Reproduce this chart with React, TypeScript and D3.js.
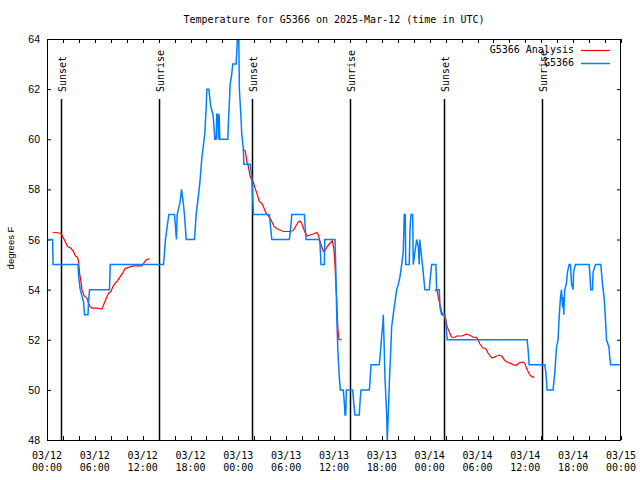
import React from "react";
import * as d3 from "d3";

// ---- data (hours since 2025-03-12 00:00 UTC, temperature °F) ----
const obsHours = [
  0.0, 0.7, 0.76, 3.88, 3.98, 4.17, 4.59, 4.71, 5.14, 5.21, 5.34, 7.84, 7.93, 14.61, 14.74, 14.86,
  15.07, 15.29, 15.99, 16.24, 16.33, 16.7, 16.87, 17.08, 17.24, 17.46, 18.5, 18.71, 19.09, 19.21,
  19.42, 19.62, 19.8, 19.87, 19.96, 20.05, 20.3, 20.55, 20.8, 20.88, 21.05, 21.22, 21.3, 21.43,
  21.5, 21.59, 21.68, 22.68, 22.76, 22.88, 22.97, 23.13, 23.31, 23.72, 23.81, 23.88, 24.06, 24.13,
  24.31, 24.43, 24.63, 24.7, 25.48, 25.69, 25.89, 27.89, 28.2, 30.4, 30.61, 30.7, 32.28, 32.49,
  34.16, 34.25, 34.37, 34.79, 34.84, 36.13, 36.25, 36.34, 36.47, 36.54, 36.67, 36.79, 37.17, 37.29,
  37.38, 37.47, 37.55, 38.35, 38.47, 38.63, 39.17, 39.26, 39.39, 40.43, 40.51, 40.64, 41.68, 41.77,
  42.02, 42.14, 42.18, 42.27, 42.39, 42.61, 42.68, 42.76, 42.81, 42.94, 43.11, 43.23, 43.43, 43.65,
  43.86, 44.06, 44.27, 44.49, 44.69, 44.81, 44.94, 45.0, 45.44, 45.53, 45.66, 45.87, 45.94, 46.15,
  46.37, 46.57, 46.69, 46.75, 46.99, 47.19, 47.32, 47.41, 47.95, 48.03, 48.25, 48.78, 48.87, 49.2,
  49.25, 49.29, 49.5, 49.91, 50.04, 50.12, 50.2, 60.23, 60.35, 60.48, 62.44, 62.57, 62.73, 63.48,
  63.7, 63.91, 64.11, 64.24, 64.41, 64.54, 64.66, 64.74, 64.82, 64.95, 65.16, 65.29, 65.49, 65.66,
  65.79, 65.99, 66.05, 66.29, 67.99, 68.08, 68.21, 68.42, 68.5, 68.8, 69.47, 69.55, 69.67, 69.87,
  69.96, 70.09, 70.18, 70.5, 70.59, 70.71, 72.0,
];
const obsTemps = [
  56, 56, 55, 55, 54.5, 54, 53.5, 53, 53, 53.5, 54, 54, 55, 55, 55.5, 56,
  56.5, 57, 57, 56, 57, 57.5, 58, 57.5, 57, 56, 56, 57, 58, 58.4,
  59.25, 59.75, 60.25, 60.7, 61.2, 62, 62, 61.3, 61, 60.8, 60, 60, 61, 61,
  60, 61, 60, 60, 60.7, 61.5, 62.2, 62.5, 63, 63, 63.5, 64, 64, 62,
  61, 60.2, 59.6, 59, 59, 58.5, 57, 57, 56, 56, 56.6, 57, 57, 56,
  56, 55.8, 55, 55, 56, 56, 54.5, 53, 51.7, 51.2, 50.5, 50, 50, 49.5,
  49, 49, 50, 50, 49.5, 49, 49, 49.5, 50, 50, 50.3, 51, 51, 51.3,
  52.3, 52.7, 53, 52, 50.5, 49, 48, 48.6, 49, 50.3, 51.5, 52.5, 53, 53.5,
  54, 54.2, 54.5, 55, 55.5, 57, 57, 55, 55, 56.4, 57, 57, 55, 55.5,
  56, 55.7, 55, 56, 55.3, 54.7, 54.25, 54, 54, 54.3, 55, 55, 54, 54,
  53.7, 53.3, 53, 53, 52.6, 52.3, 52, 52, 51.6, 51, 51, 50.7, 50, 50,
  50.7, 51.7, 52, 52.9, 53.7, 54, 53.3, 53.7, 53, 54, 54.25, 54.7, 55, 55,
  54.25, 54, 54.7, 55, 55, 54.7, 54, 54, 54.7, 55, 55, 54.7, 54.25, 53.7,
  53.3, 52.6, 52, 51.7, 51.3, 51, 51,
];

// analysis runs (three separate segments)
const anaHours1 = [
  0.7, 1.33, 1.75, 2.08, 2.29, 2.58, 3.01, 3.33, 3.55, 3.83, 3.96, 4.09, 4.26, 4.39, 4.67, 5.01,
  5.21, 5.43, 5.64, 6.27, 6.89, 7.09, 7.31, 7.52, 7.72, 8.02, 8.27, 8.56, 8.85, 9.19, 9.52, 9.81,
  10.23, 10.85, 11.9, 12.19, 12.44, 12.86,
];
const anaTemps1 = [
  56.29, 56.27, 56.24, 56.05, 55.92, 55.72, 55.65, 55.52, 55.35, 55.29, 55.12, 54.65, 54.32, 53.99,
  53.75, 53.66, 53.46, 53.32, 53.26, 53.26, 53.22, 53.39, 53.56, 53.72, 53.86, 53.92, 54.12, 54.26,
  54.36, 54.52, 54.68, 54.84, 54.89, 54.95, 54.95, 55.08, 55.19, 55.23,
];
const anaHours2 = [
  24.56, 24.85, 24.97, 25.06, 25.26, 25.48, 25.69, 25.89, 26.1, 26.39, 26.64, 26.94, 27.23, 27.48,
  27.77, 27.98, 28.2, 28.48, 28.82, 29.24, 29.65, 30.49, 30.9, 31.24, 31.53, 31.74, 31.95, 32.16,
  32.37, 32.66, 33.0, 33.41, 33.83, 34.04, 34.25, 34.46, 34.66, 34.87, 35.16, 35.5, 35.79, 36.0,
  36.13, 36.22, 36.34, 36.42, 36.5, 36.62, 36.97,
];
const anaTemps2 = [
  59.58, 59.55, 59.34, 59.11, 58.91, 58.51, 58.38, 58.27, 58.05, 57.78, 57.51, 57.45, 57.25, 57.05,
  56.94, 56.85, 56.72, 56.52, 56.44, 56.38, 56.32, 56.32, 56.36, 56.55, 56.7, 56.74, 56.65, 56.45,
  56.28, 56.14, 56.18, 56.22, 56.28, 56.18, 55.92, 55.72, 55.52, 55.56, 55.72, 55.85, 55.95, 55.58,
  54.92, 54.28, 53.6, 52.9, 52.4, 52.0, 52.0,
];
const anaHours3 = [
  48.66, 48.95, 49.07, 49.2, 49.37, 49.5, 49.7, 49.91, 50.04, 50.2, 50.45, 50.75, 51.17, 51.38,
  52.01, 52.63, 53.05, 53.46, 53.88, 54.09, 54.3, 54.71, 55.01, 55.34, 55.76, 56.05, 56.39, 56.8,
  57.09, 57.43, 57.84, 58.15, 58.6, 58.9, 59.31, 59.72, 59.94, 60.15, 60.35, 60.59, 60.8, 61.13,
];
const anaTemps3 = [
  53.99, 53.95, 53.72, 53.52, 53.32, 53.12, 52.99, 52.95, 52.79, 52.52, 52.32, 52.1, 52.1, 52.15,
  52.15, 52.22, 52.18, 52.1, 52.1, 51.99, 51.83, 51.66, 51.66, 51.46, 51.29, 51.29, 51.35, 51.39,
  51.33, 51.17, 51.09, 51.06, 50.99, 50.99, 51.09, 51.11, 51.06, 50.86, 50.73, 50.59, 50.53, 50.5,
];

const sunEventHours = [1.8, 14.08, 25.77, 38.05, 49.8, 62.1];
const sunEventLabels = ["Sunset", "Sunrise", "Sunset", "Sunrise", "Sunset", "Sunrise"];

const xTickHours = [0, 6, 12, 18, 24, 30, 36, 42, 48, 54, 60, 66, 72];
const xTickDates = ["03/12", "03/12", "03/12", "03/12", "03/13", "03/13", "03/13", "03/13", "03/14", "03/14", "03/14", "03/14", "03/15"];
const xTickTimes = ["00:00", "06:00", "12:00", "18:00", "00:00", "06:00", "12:00", "18:00", "00:00", "06:00", "12:00", "18:00", "00:00"];
const yTicks = [48, 50, 52, 54, 56, 58, 60, 62, 64];

const title = "Temperature for G5366 on 2025-Mar-12 (time in UTC)";
const yLabel = "degrees F";
const legendNames = ["G5366 Analysis", "G5366"];

const RED = "#ff0000";
const BLUE = "#0080ff";
const FONT = "'DejaVu Sans Mono', monospace";
const SANS = "'Liberation Sans', Arial, sans-serif";

export default function App() {
  const W = 640, H = 480;
  const L = 47, R = 621, T = 39, B = 440;
  const x = d3.scaleLinear().domain([0, 72]).range([L, R]);
  const y = d3.scaleLinear().domain([48, 64]).range([B, T]);

  const line = d3
    .line<[number, number]>()
    .x((d) => x(d[0]))
    .y((d) => y(d[1]));

  const obs = obsHours.map((h, i) => [h, obsTemps[i]] as [number, number]);
  const anaSegs = [
    [anaHours1, anaTemps1],
    [anaHours2, anaTemps2],
    [anaHours3, anaTemps3],
  ].map(([hs, ts]) => hs.map((h, i) => [h, ts[i]] as [number, number]));

  const minorHours = d3.range(0, 73, 2);

  return (
    <svg width={W} height={H} style={{ position: "absolute", left: 0, top: 0, background: "#fff" }} fontFamily={FONT} fontSize={10}>
      <defs>
        <clipPath id="plotclip">
          <rect x={L} y={T} width={R - L} height={B - T} />
        </clipPath>
      </defs>
      <rect x={0} y={0} width={W} height={H} fill="#fff" />

      {/* title */}
      <text x={(L + R) / 2} y={23} textAnchor="middle" fill="#000">{title}</text>

      {/* y ticks and labels */}
      {yTicks.map((v) => (
        <g key={"y" + v}>
          <line x1={L} x2={L + 4} y1={y(v) + 0.5} y2={y(v) + 0.5} stroke="#000" />
          <line x1={R - 4} x2={R} y1={y(v) + 0.5} y2={y(v) + 0.5} stroke="#000" />
          <text x={40} y={y(v) + 4} textAnchor="end" fill="#000" fontFamily={SANS} fontSize={10.5}>{v}</text>
        </g>
      ))}
      <text transform={`translate(14, 248) rotate(-90)`} textAnchor="middle" fill="#000" fontFamily={SANS} fontSize={9.5}>{yLabel}</text>

      {/* x ticks */}
      {minorHours.map((h) => (
        <g key={"xt" + h}>
          <line x1={Math.round(x(h)) + 0.5} x2={Math.round(x(h)) + 0.5} y1={B} y2={B - 4} stroke="#000" />
          <line x1={Math.round(x(h)) + 0.5} x2={Math.round(x(h)) + 0.5} y1={T} y2={T + 4} stroke="#000" />
        </g>
      ))}
      {xTickHours.map((h, i) => (
        <g key={"xl" + h}>
          <text x={x(h)} y={459} textAnchor="middle" fill="#000">{xTickDates[i]}</text>
          <text x={x(h)} y={471} textAnchor="middle" fill="#000">{xTickTimes[i]}</text>
        </g>
      ))}

      {/* sunrise / sunset markers */}
      {sunEventHours.map((h, i) => {
        const px = Math.round(x(h)) + 0.5;
        return (
          <g key={"sun" + i}>
            <line x1={px} x2={px} y1={99} y2={B} stroke="#000" strokeWidth={1.5} />
            <text transform={`translate(${px + 4}, 92) rotate(-90)`} textAnchor="start" fill="#000">{sunEventLabels[i]}</text>
          </g>
        );
      })}

      {/* data */}
      <g clipPath="url(#plotclip)">
        {anaSegs.map((seg, i) => (
          <path key={"a" + i} d={line(seg) || ""} fill="none" stroke={RED} strokeWidth={1.2} />
        ))}
        <path d={line(obs) || ""} fill="none" stroke={BLUE} strokeWidth={1.5} />
      </g>

      {/* legend */}
      <text x={574} y={53} textAnchor="end" fill="#000">{legendNames[0]}</text>
      <line x1={581} x2={610} y1={50.5} y2={50.5} stroke={RED} strokeWidth={1.2} />
      <text x={574} y={66} textAnchor="end" fill="#000">{legendNames[1]}</text>
      <line x1={581} x2={610} y1={63.5} y2={63.5} stroke={BLUE} strokeWidth={1.5} />

      {/* frame */}
      <rect x={L + 0.5} y={T + 0.5} width={R - L - 1} height={B - T} fill="none" stroke="#000" />
    </svg>
  );
}
